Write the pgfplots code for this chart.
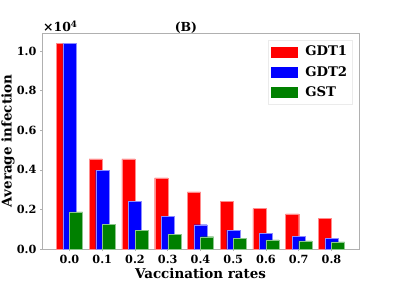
\documentclass[border=0pt]{standalone}
\usepackage{fontspec}
\setmainfont{DejaVu Serif}
\usepackage{pgfplots}
\pgfplotsset{compat=1.18}
\definecolor{mgreen}{RGB}{0,128,0}
\definecolor{spine}{RGB}{176,176,176}
\begin{document}
\begin{tikzpicture}[x=1bp,y=1bp]
\path[use as bounding box] (0,0) rectangle (399,300);
\begin{axis}[
  at={(42bp,51bp)}, anchor=south west,
  scale only axis, width=317bp, height=216bp,
  clip=false,
  xmin=-0.84, xmax=8.84, ymin=0, ymax=10920,
  scaled y ticks=false,
  xtick={0,1,2,3,4,5,6,7,8},
  xticklabels={0.0,0.1,0.2,0.3,0.4,0.5,0.6,0.7,0.8},
  ytick={0,2000,4000,6000,8000,10000},
  yticklabels={0.0,0.2,0.4,0.6,0.8,1.0},
  /pgf/number format/assume math mode=true,
  axis line style={spine, line width=0.8bp},
  tick style={spine, line width=0.6bp},
  major tick length=2bp,
  tick align=outside,
  xtick pos=bottom, ytick pos=left,
  tick label style={font=\bfseries\fontsize{11.3}{13}\selectfont},
  xticklabel style={yshift=-1bp},
  xlabel={Vaccination rates},
  ylabel={Average infection},
  every axis y label/.style={at={([xshift=-34bp]rel axis cs:0,0.5)}, rotate=90, anchor=center,
    font=\bfseries\fontsize{13.5}{15}\selectfont},
  every axis x label/.style={at={([yshift=-24bp]rel axis cs:0.5,0)}, anchor=center,
    font=\bfseries\fontsize{13.5}{15}\selectfont},
  legend style={at={(rel axis cs:0.979,0.968)}, anchor=north east,
    draw=black!8, fill=white,
    font=\bfseries\fontsize{13.3}{15}\selectfont,
    row sep=5bp, inner xsep=3bp, inner ysep=4bp,
    /tikz/every odd column/.style={column sep=6bp}},
  legend cell align=left,
  ybar, bar width=0.4,
]
\addplot[fill=red, draw=red!45, line width=0.3bp, bar shift=-0.2,
  legend image code/.code={\fill[red] (0bp,-5bp) rectangle (26bp,5bp);}] coordinates {
(0,10400) (1,4560) (2,4560) (3,3590) (4,2890) (5,2400) (6,2040) (7,1780) (8,1540)};
\addplot[fill=blue, draw=blue!45, line width=0.3bp, bar shift=0,
  legend image code/.code={\fill[blue] (0bp,-5bp) rectangle (26bp,5bp);}] coordinates {
(0,10400) (1,3990) (2,2400) (3,1640) (4,1230) (5,960) (6,785) (7,630) (8,530)};
\addplot[fill=mgreen, draw=mgreen!45, line width=0.3bp, bar shift=0.2,
  legend image code/.code={\fill[mgreen] (0bp,-5bp) rectangle (26bp,5bp);}] coordinates {
(0,1880) (1,1250) (2,960) (3,750) (4,620) (5,530) (6,460) (7,410) (8,360)};
\legend{GDT1,GDT2,GST}
\node[anchor=base west, font=\bfseries\fontsize{12.5}{14}\selectfont, inner sep=0pt] at (rel axis cs:0.003,1) [yshift=1.5bp] {×10\textsuperscript{4}};
\node[anchor=base, font=\bfseries\fontsize{12.5}{14}\selectfont, inner sep=0pt] at (rel axis cs:0.454,1) [yshift=1.5bp] {(B)};
\end{axis}
\end{tikzpicture}
\end{document}
